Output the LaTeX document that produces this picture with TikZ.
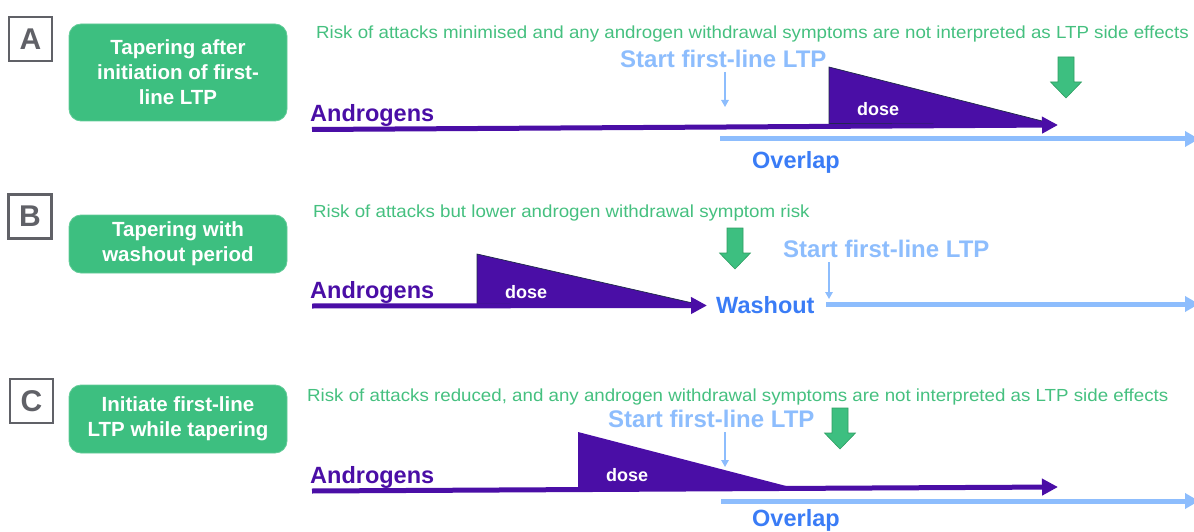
\documentclass[tikz,border=0pt]{standalone}
\usepackage{fontspec}
\setmainfont{Liberation Sans}
\usetikzlibrary{arrows.meta}
\definecolor{purp}{HTML}{4A0EA6}
\definecolor{lblue}{HTML}{8DBDFD}
\definecolor{oblue}{HTML}{3A7CF6}
\definecolor{gfill}{HTML}{3DBF80}
\definecolor{gline}{HTML}{2F9E62}
\definecolor{gtext}{HTML}{45C07F}
\definecolor{lgray}{HTML}{606167}
\definecolor{tridark}{HTML}{1E2A48}
\begin{document}
\begin{tikzpicture}[x=1pt,y=-1pt,
  lbl/.style={inner sep=0pt, anchor=base west},
  andro/.style={lbl, text=purp, font=\fontsize{23.5}{28}\selectfont\bfseries},
  startlbl/.style={lbl, text=lblue, font=\fontsize{24}{28}\selectfont\bfseries},
  bluelbl/.style={lbl, text=oblue, font=\fontsize{23.5}{28}\selectfont\bfseries},
  doselbl/.style={lbl, text=white, font=\fontsize{18}{22}\selectfont\bfseries},
  risk/.style={lbl, text=gtext, font=\fontsize{17.5}{21}\selectfont},
  letterbox/.style={draw=lgray, line width=2.5pt, text=lgray, minimum width=43pt, minimum height=44pt, inner sep=0pt, font=\fontsize{30}{34}\selectfont\bfseries},
  gbox/.style={fill=gfill, draw=gfill!80!white, line width=0.8pt, rounded corners=12pt, minimum width=218pt, inner sep=0pt, text=white, align=center, font=\fontsize{20.5}{25}\selectfont\bfseries},
  androline/.style={draw=purp, line width=5pt, -{Triangle[length=16pt,width=16pt]}},
  ltpline/.style={draw=lblue, line width=5pt, -{Triangle[length=14pt,width=15pt]}},
  thinarrow/.style={draw=lblue, line width=1.4pt, -{Triangle[length=7pt,width=7.5pt]}},
  dosetri/.style={fill=purp, draw=tridark, line width=0.7pt},
  gdown/.pic={\filldraw[fill=gfill, draw=gline, line width=0.6pt] (-8,0) -- (8,0) -- (8,25) -- (15.5,25) -- (0,41) -- (-15.5,25) -- (-8,25) -- cycle;}
]
\useasboundingbox (0,0) rectangle (1194,532);
\clip (0,0) rectangle (1194,532);

% ---------- left column ----------
\node[letterbox] (la) at (30.5,39) {A};
\node[letterbox] (lb) at (30,216.5) {B};
\node[letterbox] (lc) at (31.5,401) {C};
\node[gbox, minimum height=97pt] (ga) at (178,72.5) {Tapering after\\initiation of first-\\line LTP};
\node[gbox, minimum height=58pt] (gb) at (178,244) {Tapering with\\washout period};
\node[gbox, minimum height=68pt] (gc) at (178,419) {Initiate first-line\\LTP while tapering};

% ---------- A ----------
\node[risk] (ra) at (316,39) {\scalebox{1.07}[1]{Risk of attacks minimised and any androgen withdrawal symptoms are not interpreted as LTP side effects}};
\coordinate (a0) at (312,129.5);
\coordinate (a1) at (1058,125);
\coordinate (t1) at (829,67);
\coordinate (t2) at (829,123.5);
\coordinate (t3) at (1052,123.5);
\filldraw[dosetri] (t1) -- (t3) -- (t2) -- cycle;
\draw[androline] (a0) -- (a1);
\coordinate (ab0) at (720,139);
\coordinate (ab1) at (1199,139);
\draw[ltpline] (ab0) -- (ab1);
\node[andro] (an) at (310,122) {Androgens};
\node[doselbl] (ad) at (857,116) {dose};
\node[startlbl] (as) at (620,68) {Start first-line LTP};
\coordinate (at0) at (725,72);
\coordinate (at1) at (725,107);
\draw[thinarrow] (at0) -- (at1);
\node[bluelbl] (ao) at (752,168) {Overlap};
\pic at (1066,57) {gdown};

% ---------- B ----------
\node[risk] (rb) at (313,217) {\scalebox{1.07}[1]{Risk of attacks but lower androgen withdrawal symptom risk}};
\coordinate (b0) at (312,306);
\coordinate (b1) at (707,305.5);
\coordinate (u1) at (477,254);
\coordinate (u2) at (477,304);
\coordinate (u3) at (697,304);
\filldraw[dosetri] (u1) -- (u3) -- (u2) -- cycle;
\draw[androline] (b0) -- (b1);
\node[andro] (bn) at (310,298) {Androgens};
\node[doselbl] (bd) at (505,298) {dose};
\pic at (735,228) {gdown};
\node[bluelbl] (bw) at (716,313) {Washout};
\node[startlbl] (bs) at (783,257) {Start first-line LTP};
\coordinate (bt0) at (829,262);
\coordinate (bt1) at (829,299);
\draw[thinarrow] (bt0) -- (bt1);
\coordinate (bb0) at (826,304);
\coordinate (bb1) at (1199,304);
\draw[ltpline] (bb0) -- (bb1);

% ---------- C ----------
\node[risk] (rc) at (307,401) {\scalebox{1.07}[1]{Risk of attacks reduced, and any androgen withdrawal symptoms are not interpreted as LTP side effects}};
\coordinate (c0) at (312,491);
\coordinate (c1) at (1058,487);
\coordinate (v1) at (578,432);
\coordinate (v2) at (578,489);
\coordinate (v3) at (790,487);
\fill[purp] (v1) -- (v3) -- (v2) -- cycle;
\draw[androline] (c0) -- (c1);
\node[andro] (cn) at (310,483) {Androgens};
\node[doselbl] (cd) at (606,481) {dose};
\node[startlbl] (cs) at (608,427) {Start first-line LTP};
\coordinate (ct0) at (725,432);
\coordinate (ct1) at (725,467);
\draw[thinarrow] (ct0) -- (ct1);
\coordinate (cb0) at (721,501);
\coordinate (cb1) at (1199,501);
\draw[ltpline] (cb0) -- (cb1);
\node[bluelbl] (co) at (752,526) {Overlap};
\pic at (840,408) {gdown};
\end{tikzpicture}
\end{document}
